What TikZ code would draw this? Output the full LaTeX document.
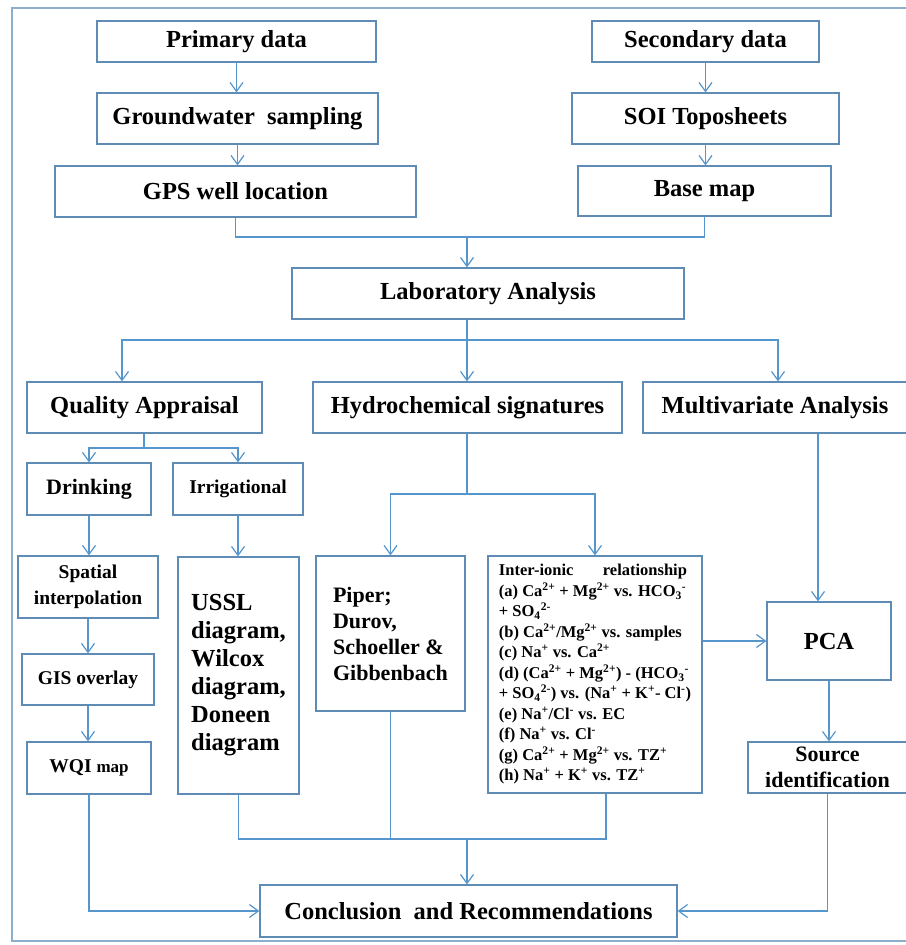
\documentclass[tikz,border=0pt]{standalone}
\usepackage{fontspec}
\setmainfont{Liberation Serif}
\usetikzlibrary{arrows.meta}

\definecolor{boxblue}{RGB}{95,140,180}
\definecolor{lineblue}{RGB}{85,150,205}
\definecolor{frameblue}{RGB}{140,175,205}

\newcommand{\sps}[1]{\textsuperscript{#1}}
\newcommand{\sbs}[1]{\textsubscript{#1}}

\begin{document}
\begin{tikzpicture}[x=1pt,y=1pt,yscale=-1,
    box/.style={draw=boxblue, line width=1.2pt, inner sep=2pt, align=center, font=\bfseries\fontsize{24.5}{28}\selectfont},
    midbox/.style={box, font=\bfseries\fontsize{22}{26}\selectfont},
    smallbox/.style={box, font=\bfseries\fontsize{19.5}{26}\selectfont},
    flow/.style={draw=lineblue, line width=1.2pt},
    arr/.style={flow, -{Straight Barb[length=9pt,width=13pt]}}]
        \useasboundingbox (0,0) rectangle (905,945);
        \fill[white] (0,0) rectangle (905,945);

        %Frame
        \draw [frameblue, line width=1.5pt] (12,8) rectangle (912,941);

        % Data nodes
        \node [box, minimum width=279, minimum height=41] (prim) at (236.5,41.5) {Primary data};
        \node [box, minimum width=281, minimum height=51] (gw) at (237.5,118.5) {Groundwater\enspace sampling};
        \node [box, minimum width=361, minimum height=51] (gps) at (235.5,191.5) {GPS well location};
        \node [box, minimum width=227, minimum height=41] (sec) at (705.5,41.5) {Secondary data};
        \node [box, minimum width=267, minimum height=51] (soi) at (705.5,118.5) {SOI Toposheets};
        \node [box, minimum width=253, minimum height=50] (base) at (704.5,191) {Base map};
        \node [box, minimum width=392, minimum height=51] (lab) at (488,293.5) {Laboratory Analysis};

        % Analysis nodes
        \node [box, minimum width=235, minimum height=51] (qual) at (144.5,407.5) {Quality Appraisal};
        \node [box, minimum width=309, minimum height=51] (hydro) at (467.5,407.5) {Hydrochemical signatures};
        \node [box, minimum width=264, minimum height=51] (multi) at (775,407.5) {Multivariate Analysis};

        % Quality branch
        \node [midbox, minimum width=124, minimum height=52] (drink) at (89,489) {Drinking};
        \node [smallbox, minimum width=130, minimum height=52] (irrig) at (238,489) {Irrigational};
        \node [smallbox, minimum width=140, minimum height=62] (spat) at (88,587) {Spatial\\interpolation};
        \node [smallbox, minimum width=132, minimum height=51] (gis) at (88,679.5) {GIS overlay};
        \node [smallbox, minimum width=124, minimum height=52] (wqi) at (89,768) {WQI {\fontsize{17}{20}\selectfont map}};
        \node [box, align=left, minimum width=121, minimum height=237] (ussl) at (238.5,675.5) {USSL\\diagram,\\Wilcox\\diagram,\\Doneen\\diagram};

        % Hydrochemical branch
        \node [midbox, align=left, minimum width=149, minimum height=155] (piper) at (390.5,633.5) {Piper;\\Durov,\\Schoeller \&\\Gibbenbach};
        \node [box, align=left, minimum width=214, minimum height=237, font=\bfseries\fontsize{16.5}{20.5}\selectfont] (inter) at (595,674.5)
            {\makebox[188pt][s]{Inter-ionic relationship}\\
             (a) Ca\sps{2+} + Mg\sps{2+} vs. HCO\sbs{3}\sps{-}\\
             + SO\sbs{4}\sps{2-}\\
             (b) Ca\sps{2+}/Mg\sps{2+} vs. samples\\
             (c) Na\sps{+} vs. Ca\sps{2+}\\
             (d) (Ca\sps{2+} + Mg\sps{2+}) - (HCO\sbs{3}\sps{-}\\
             + SO\sbs{4}\sps{2-}) vs. (Na\sps{+} + K\sps{+}- Cl\sps{-})\\
             (e) Na\sps{+}/Cl\sps{-} vs. EC\\
             (f) Na\sps{+} vs. Cl\sps{-}\\
             (g) Ca\sps{2+} + Mg\sps{2+} vs. TZ\sps{+}\\
             (h) Na\sps{+} + K\sps{+} vs. TZ\sps{+}};

        % Multivariate branch
        \node [box, minimum width=124, minimum height=78] (pca) at (829,641) {PCA};
        \node [midbox, minimum width=159, minimum height=51] (src) at (827.5,767.5) {Source\\identification};

        \node [box, minimum width=417, minimum height=52] (concl) at (468.5,911) {Conclusion\enspace and Recommendations};

        % Junctions
        \coordinate (jtop) at (467,237);
        \coordinate (jdist) at (467,340);
        \coordinate (jqual) at (144,448);
        \coordinate (jhyd) at (467,494);
        \coordinate (jmrg) at (467,839);
        \coordinate (pcain) at ([xshift=-11pt]pca.north);
        \coordinate (intout) at ([xshift=11pt]inter.south);

        % Connectors
        \draw [arr] (prim) -- (prim |- gw.north);
        \draw [arr] (gw) -- (gw |- gps.north);
        \draw [arr] (sec) -- (sec |- soi.north);
        \draw [arr] (soi) -- (soi |- base.north);
        \draw [flow] (gps.south) |- (jtop) -| (base.south);
        \draw [arr] (jtop) -- (jtop |- lab.north);

        \draw [flow] (jdist |- lab.south) -- (jdist);
        \draw [arr] (jdist) -| ([xshift=-22.5pt]qual.north);
        \draw [arr] (jdist) -- (jdist |- hydro.north);
        \draw [arr] (jdist) -| ([xshift=3pt]multi.north);

        \draw [flow] (jqual |- qual.south) -- (jqual);
        \draw [arr] (jqual) -| (drink.north);
        \draw [arr] (jqual) -| (irrig.north);
        \draw [arr] (drink) -- (drink |- spat.north);
        \draw [arr] (spat) -- (spat |- gis.north);
        \draw [arr] (gis) -- (gis |- wqi.north);
        \draw [arr] (irrig) -- (irrig |- ussl.north);

        \draw [flow] (jhyd |- hydro.south) -- (jhyd);
        \draw [arr] (jhyd) -| (piper.north);
        \draw [arr] (jhyd) -| (inter.north);
        \draw [arr] (inter.east |- pca.west) -- (pca.west);

        \draw [arr] (pcain |- multi.south) -- (pcain);
        \draw [arr] (pca) -- (pca |- src.north);

        \draw [flow] (ussl.south) |- (jmrg);
        \draw [flow] (intout) |- (jmrg);
        \draw [flow] (piper.south) -- (piper.south |- jmrg);
        \draw [arr] (jmrg) -- (jmrg |- concl.north);
        \draw [arr] (wqi.south) |- (concl.west);
        \draw [arr] (src.south) |- (concl.east);

\end{tikzpicture}
\end{document}
